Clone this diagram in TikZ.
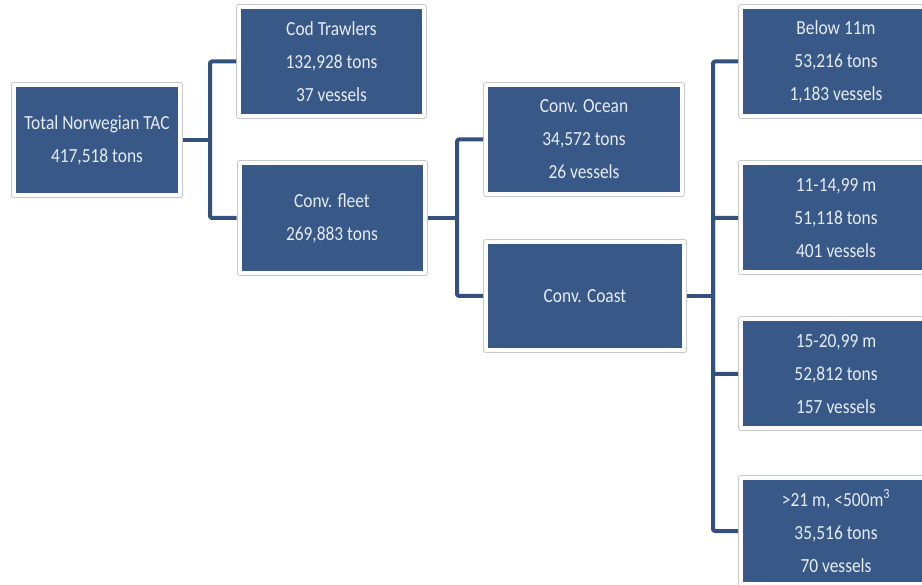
\documentclass[tikz,border=0pt]{standalone}
\usepackage{fontspec}
\setmainfont{Carlito}[FakeStretch=0.87]
\usetikzlibrary{positioning, calc}

\definecolor{boxblue}{HTML}{385887}
\definecolor{lineblue}{HTML}{34507D}
\definecolor{boxtext}{HTML}{E6ECF4}
\definecolor{boxrim}{HTML}{C8C8C8}

\tikzset{
    tacbox/.style={fill=boxblue, draw=white, line width=4pt,
        preaction={draw=boxrim, line width=6pt},
        text=boxtext, align=center, inner sep=0pt, outer sep=3pt,
        minimum height=109pt,
        font=\fontsize{20}{33}\selectfont},
    link/.style={draw=lineblue, line width=4pt, rounded corners=2pt}
}

\begin{document}
\begin{tikzpicture}[x=1pt, y=-1pt, line join=round]
    \clip (0,0) rectangle (922,585);
    \fill[white] (0,0) rectangle (922,585);

    % boxes
    \node[tacbox, minimum width=166pt, minimum height=110pt] (total) at (97,140) {Total Norwegian TAC\\417,518 tons};
    \node[tacbox, minimum width=185pt] (cod) at (331.5,61.5) {Cod Trawlers\\132,928 tons\\37 vessels};
    \node[tacbox, minimum width=185pt, minimum height=110pt] (fleet) at (332,218) {Conv. fleet\\269,883 tons};
    \node[tacbox, minimum width=196pt] (ocean) at (584,139.5) {Conv. Ocean\\34,572 tons\\26 vessels};
    \node[tacbox, minimum width=198pt, minimum height=108pt] (coast) at (585,296) {Conv. Coast};
    \node[tacbox, minimum width=190pt] (below) at (836,61.5) {Below 11m\\53,216 tons\\1,183 vessels};
    \node[tacbox, minimum width=190pt] (small) at (836,218) {11-14,99 m\\51,118 tons\\401 vessels};
    \node[tacbox, minimum width=190pt] (medium) at (836,374) {15-20,99 m\\52,812 tons\\157 vessels};
    \node[tacbox, minimum width=190pt, minimum height=105pt] (large) at (836,531) {>21 m, <500m\textsuperscript{3}\\35,516 tons\\70 vessels};

    % connectors
    \coordinate (busA) at (210,140);
    \coordinate (busB) at (457,218);
    \coordinate (busC) at (713,296);

    \draw[link] (total.east) -- (busA);
    \draw[link] (cod.west) -| (busA) |- (fleet.west);
    \draw[link] (fleet.east) -- (busB);
    \draw[link] (ocean.west) -| (busB) |- (coast.west);
    \draw[link] (coast.east) -- (busC);
    \draw[link] (below.west) -| (busC) |- (large.west);
    \draw[link] (busC) |- (small.west);
    \draw[link] (busC) |- (medium.west);
\end{tikzpicture}
\end{document}
